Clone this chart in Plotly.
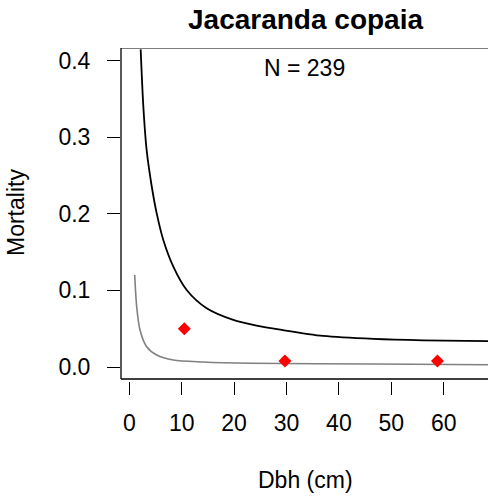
import plotly.graph_objects as go

# upper curve (black)
upper_x = [2.17, 2.68, 3.31, 4.3, 5.23, 6.49, 8.40, 10.95, 14.77, 19.85, 24.3, 28.8, 37.0, 46.6, 56.1, 68.5]
upper_y = [0.4147, 0.340, 0.283, 0.235, 0.2006, 0.1658, 0.131, 0.1005, 0.0766, 0.0614, 0.0540,
           0.0487, 0.0405, 0.0366, 0.0348, 0.0339]

# lower curve (grey)
lower_x = [1.03, 1.41, 2.04, 3.31, 5.23, 8.4, 14.1, 23.0, 46.6, 68.5]
lower_y = [0.120, 0.0787, 0.0483, 0.0265, 0.0157, 0.0091, 0.0065, 0.0048, 0.0039, 0.0030]

# observed mortality by size class
obs_x = [10.5, 29.7, 58.8]
obs_y = [0.050, 0.0078, 0.0078]

x_ticks = [0, 10, 20, 30, 40, 50, 60]
y_ticks = [0.0, 0.1, 0.2, 0.3, 0.4]
y_ticklabels = ["0.0", "0.1", "0.2", "0.3", "0.4"]

FONT = "Liberation Sans, Arial, Helvetica, sans-serif"
W, H = 488, 498
L, R, T, B = 121, 0, 48, 117

def px(p):   # pixel x -> paper
    return (p - L) / (W - L - R)

def py(p):   # pixel y -> paper
    return (H - B - p) / (H - B - T)

fig = go.Figure()
fig.add_scatter(x=lower_x, y=lower_y, mode="lines", line=dict(color="#808080", width=1.6, shape="spline", smoothing=0.8))
fig.add_scatter(x=upper_x, y=upper_y, mode="lines", line=dict(color="black", width=1.8, shape="spline", smoothing=0.8))
fig.add_scatter(x=obs_x, y=obs_y, mode="markers", marker=dict(symbol="diamond", color="red", size=10, line=dict(width=0)))

# box on left, top and bottom (right side falls outside the picture)
box_bottom = -0.0157
fig.add_shape(type="line", xref="paper", yref="y", x0=0, x1=0, y0=box_bottom, y1=0.4165, line=dict(color="black", width=1.3))
fig.add_shape(type="line", xref="paper", yref="y", x0=0, x1=1, y0=0.4165, y1=0.4165, line=dict(color="black", width=1.3))
fig.add_shape(type="line", xref="paper", yref="y", x0=0, x1=1, y0=box_bottom, y1=box_bottom, line=dict(color="black", width=1.3))

def label(text, x, y, size=23, angle=0):
    fig.add_annotation(text=text, xref="paper", yref="paper", x=px(x), y=py(y), xanchor="center",
                       yanchor="middle", textangle=angle, showarrow=False,
                       font=dict(size=size, family=FONT, color="black"))

label("<b>Jacaranda copaia</b>", 305, 19, size=28)
label("N = 239", 304, 68)
label("Mortality", 16, 213, angle=-90)
label("Dbh (cm)", 305, 480)

fig.update_xaxes(range=[-1.584, 68.45], tickvals=x_ticks, ticks="outside", ticklen=13, tickwidth=1.3,
                 tickcolor="black", showline=False, showgrid=False, zeroline=False, automargin=False,
                 ticklabelstandoff=8, tickfont=dict(size=23, family=FONT, color="black"))
fig.update_yaxes(range=[-0.01828, 0.41645], tickvals=y_ticks, ticktext=y_ticklabels, ticks="outside",
                 ticklen=13, tickwidth=1.3, tickcolor="black", showline=False, showgrid=False,
                 zeroline=False, automargin=False, ticklabelstandoff=12,
                 tickfont=dict(size=23, family=FONT, color="black"))

fig.update_layout(width=W, height=H, margin=dict(l=L, r=R, t=T, b=B), showlegend=False,
                  plot_bgcolor="white", paper_bgcolor="white")

fig.write_html("out.html", config={"displayModeBar": False},
               post_script="document.body.style.margin='0';")
